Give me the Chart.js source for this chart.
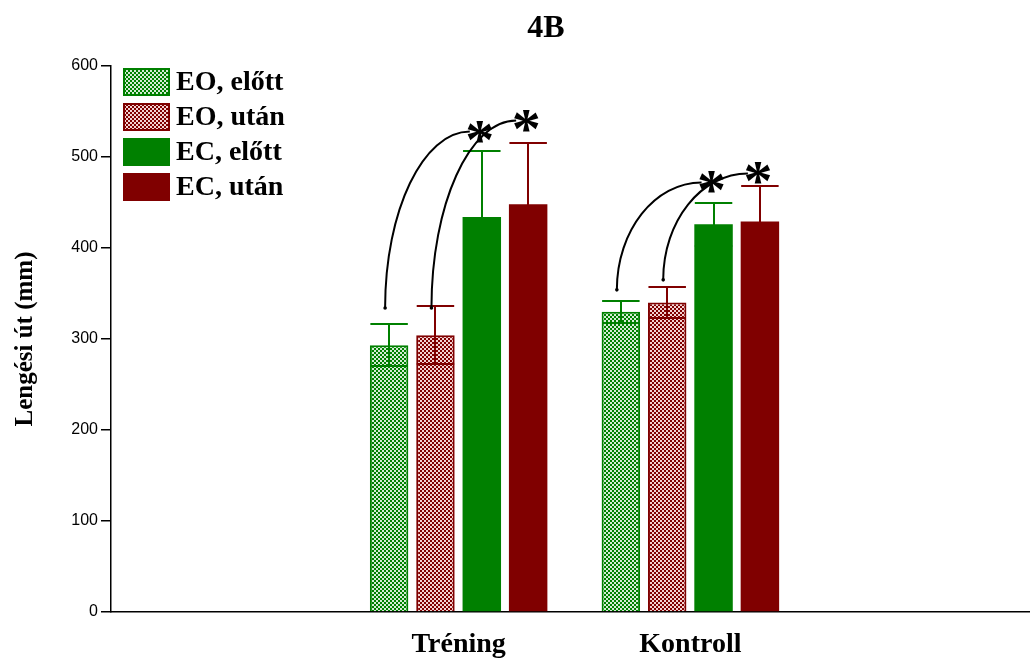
<!DOCTYPE html>
<html>
<head>
<meta charset="utf-8">
<script src="https://cdn.jsdelivr.net/npm/chart.js@4"></script>
<style>
  html, body { margin: 0; padding: 0; background: #fff; overflow: hidden; }
  #wrap { width: 1040px; height: 659px; }
</style>
</head>
<body>
<div id="wrap"><canvas id="BarChart" width="1040" height="659"></canvas></div>
<script>
const categories = ['', 'Tréning', 'Kontroll', ''];
const seriesNames = ['EO, előtt', 'EO, után', 'EC, előtt', 'EC, után'];

const eoElott = [null, 293, 330, null];
const eoElottSd = [null, 23, 12, null];
const eoUtan = [null, 304, 340, null];
const eoUtanSd = [null, 32, 17, null];
const ecElott = [null, 434, 426, null];
const ecElottSd = [null, 73, 24, null];
const ecUtan = [null, 448, 429, null];
const ecUtanSd = [null, 67, 39, null];

const yTicks = [0, 100, 200, 300, 400, 500, 600];

// significance marks: category, from dataset, to dataset, start value, end value
const sigCat = [1, 1, 2, 2];
const sigFrom = [0, 1, 0, 1];
const sigTo = [2, 3, 2, 3];
const sigStart = [334, 334, 354, 365];
const sigEnd = [528, 540, 472, 482];

const green = '#008000';
const red = '#800000';

function checker(c1, c2) {
  const p = document.createElement('canvas');
  p.width = 4; p.height = 4;
  const g = p.getContext('2d');
  g.fillStyle = c1; g.fillRect(0, 0, 4, 4);
  g.fillStyle = c2; g.fillRect(0, 0, 2, 2); g.fillRect(2, 2, 2, 2);
  return g.createPattern(p, 'repeat');
}
const ctx = document.getElementById('BarChart').getContext('2d');
const greenPat = checker(green, '#d4ecd4');
const redPat = checker(red, '#f4d2d2');

const sds = [eoElottSd, eoUtanSd, ecElottSd, ecUtanSd];
const errColors = [green, red, green, red];

const errorBars = {
  id: 'errorBars',
  afterDatasetsDraw(chart) {
    const c = chart.ctx, y = chart.scales.y;
    c.save();
    c.lineWidth = 2;
    chart.data.datasets.forEach((ds, i) => {
      const meta = chart.getDatasetMeta(i);
      meta.data.forEach((el, j) => {
        const v = ds.data[j];
        if (v == null) return;
        const hw = el.width / 2 - 0.5;
        const x = Math.round(el.x);
        const top = Math.round(y.getPixelForValue(v + sds[i][j]));
        const bot = Math.round(y.getPixelForValue(v - sds[i][j]));
        c.strokeStyle = errColors[i];
        c.beginPath();
        c.moveTo(x, top); c.lineTo(x, bot);
        c.moveTo(el.x - hw, top); c.lineTo(el.x + hw, top);
        c.moveTo(el.x - hw, bot); c.lineTo(el.x + hw, bot);
        c.stroke();
      });
    });
    c.restore();
  }
};

const sigMarks = {
  id: 'sigMarks',
  afterDatasetsDraw(chart) {
    const c = chart.ctx, y = chart.scales.y;
    c.save();
    c.strokeStyle = '#000';
    c.fillStyle = '#000';
    c.lineWidth = 2;
    for (let k = 0; k < sigCat.length; k++) {
      const a = chart.getDatasetMeta(sigFrom[k]).data[sigCat[k]];
      const b = chart.getDatasetMeta(sigTo[k]).data[sigCat[k]];
      const x0 = a.x - 4, y0 = y.getPixelForValue(sigStart[k]);
      const x1 = b.x - 12, y1 = y.getPixelForValue(sigEnd[k]);
      const q = 0.552;
      c.beginPath();
      c.moveTo(x0, y0);
      c.bezierCurveTo(x0, y0 - q * (y0 - y1), x1 - q * (x1 - x0), y1, x1, y1);
      c.stroke();
      c.beginPath();
      c.arc(x0, y0, 1.8, 0, Math.PI * 2);
      c.fill();
      c.font = 'bold 58px "Liberation Serif"';
      c.textAlign = 'center';
      c.textBaseline = 'alphabetic';
      c.fillText('*', b.x - 2, y1 + 27);
    }
    c.restore();
  }
};

const sideText = {
  id: 'sideText',
  afterDraw(chart) {
    const c = chart.ctx, area = chart.chartArea;
    c.save();
    c.fillStyle = '#000';
    c.font = 'bold 32px "Liberation Serif"';
    c.textAlign = 'center';
    c.textBaseline = 'middle';
    c.fillText('4B', 546, 29);
    c.font = 'bold 28px "Liberation Serif"';
    c.textAlign = 'left';
    chart.data.datasets.forEach((ds, i) => {
      const bx = area.left + 12, by = area.top + 2 + i * 35;
      c.fillStyle = ds.backgroundColor;
      c.fillRect(bx, by, 47, 28);
      c.strokeStyle = ds.borderColor;
      c.lineWidth = 2;
      c.strokeRect(bx + 1, by + 1, 45, 26);
      c.fillStyle = '#000';
      c.fillText(ds.label, bx + 53, by + 15);
    });
    c.restore();
  }
};

new Chart(ctx, {
  type: 'bar',
  data: {
    labels: categories,
    datasets: [
      { label: seriesNames[0], data: eoElott, backgroundColor: greenPat, borderColor: green, borderWidth: 2 },
      { label: seriesNames[1], data: eoUtan, backgroundColor: redPat, borderColor: red, borderWidth: 2 },
      { label: seriesNames[2], data: ecElott, backgroundColor: green, borderColor: green, borderWidth: 0 },
      { label: seriesNames[3], data: ecUtan, backgroundColor: red, borderColor: red, borderWidth: 0 }
    ]
  },
  options: {
    responsive: false,
    animation: false,
    devicePixelRatio: 1,
    categoryPercentage: 0.8,
    barPercentage: 0.83,
    layout: { padding: { top: 66, left: 0, right: 2, bottom: 0 } },
    plugins: { legend: { display: false }, tooltip: { enabled: false } },
    scales: {
      x: {
        grid: { drawOnChartArea: false, drawTicks: false },
        border: { display: true, color: '#000', width: 1.5 },
        ticks: { color: '#000', padding: 16, font: { family: 'Liberation Serif', size: 28, weight: 'bold' } },
        afterFit: (axis) => { axis.height = 47; }
      },
      y: {
        min: 0, max: 600,
        afterBuildTicks: (axis) => { axis.ticks = yTicks.map(v => ({ value: v })); },
        grid: { drawOnChartArea: false, tickLength: 10, color: '#000', lineWidth: 1.5 },
        border: { display: true, color: '#000', width: 1.5 },
        ticks: { color: '#000', padding: 3, font: { family: 'Liberation Sans', size: 16 } },
        title: { display: true, text: 'Lengési út (mm)', color: '#000', padding: { top: 11, bottom: 0 },
                 font: { family: 'Liberation Serif', size: 25, weight: 'bold' } },
        afterFit: (axis) => { axis.width = 111; }
      }
    }
  },
  plugins: [errorBars, sigMarks, sideText]
});
</script>
</body>
</html>
